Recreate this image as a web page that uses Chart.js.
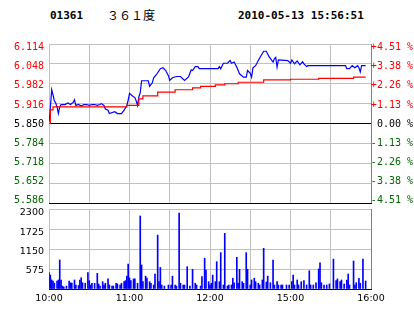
<!DOCTYPE html>
<html><head><meta charset="utf-8">
<script src="https://cdn.jsdelivr.net/npm/chart.js@4"></script>
<style>
html,body{margin:0;padding:0;background:#fff;width:414px;height:314px;overflow:hidden}
#wrap{position:relative;width:414px;height:314px;background:#fff}
canvas{position:absolute;left:0;top:0}
.hd{position:absolute;top:9px;font:bold 11px "DejaVu Sans Mono",monospace;color:#000;line-height:14px;white-space:pre}
.nm{position:absolute;top:7px;left:107px;font:12px "Noto Sans CJK SC",sans-serif;color:#000;line-height:16px;white-space:pre}
</style></head><body>
<div id="wrap">
<div class="hd" style="left:50px">01361</div>
<div class="nm">３６１度</div>
<div class="hd" style="left:238px">2010-05-13 15:56:51</div>
<canvas id="vol" width="414" height="314"></canvas>
<canvas id="price" width="414" height="314"></canvas>
</div>
<script>
// ---- data ----
const priceMin = [0,1,2,3,4,5,6,7,8,9,
  12,14,16,18,19,20,22,24,26,28,
  30,32,34,36,38,39,41,42,44,45,
  49,51,54,56,58,59,60,62,64,65,
  66,67,68,69,74,75,77,78,80,83,
  85,87,89,90,92,95,98,101,104,106,
  107,109,111,112,126,127,128,130,133,135,
  136,138,140,142,145,147,148,150,151,152,
  154,156,158,160,162,164,167,168,169,170,
  171,178,180,181,183,185,187,189,190,192,
  193,221,222,224,226,228,230,231,232,233,
  236];
const priceVal = [5.855,5.900,5.962,5.945,5.925,5.918,5.905,5.883,5.905,5.913,
  5.913,5.918,5.913,5.920,5.929,5.910,5.913,5.908,5.913,5.913,
  5.910,5.913,5.913,5.910,5.913,5.916,5.910,5.898,5.894,5.883,
  5.889,5.883,5.883,5.894,5.910,5.927,5.950,5.942,5.936,5.925,
  5.910,5.939,5.952,5.992,5.992,5.973,5.985,6.002,6.012,6.032,
  6.035,6.026,6.009,5.993,6.002,6.006,6.006,5.993,6.005,6.028,
  6.026,6.039,6.039,6.032,6.032,6.039,6.032,6.050,6.050,6.059,
  6.050,6.054,6.037,6.015,6.004,6.004,6.026,6.017,6.004,6.035,
  6.042,6.059,6.075,6.090,6.090,6.072,6.054,6.065,6.070,6.037,
  6.061,6.059,6.050,6.061,6.048,6.058,6.045,6.055,6.048,6.039,
  6.042,6.042,6.032,6.032,6.042,6.035,6.042,6.035,6.021,6.042,
  6.042];
const avgMin = [0,1,3,58,67,70,81,94,107,113,124,131,141,160,180,201,227,236];
const avgVal = [5.850,5.895,5.905,5.910,5.932,5.942,5.954,5.962,5.968,5.973,5.978,5.982,5.987,5.995,5.997,6.000,6.004,6.004];
const volMin = [0,1,2,3,4,6,7,8,9,10,
  11,13,15,16,17,19,20,22,23,24,
  25,27,29,30,31,32,34,36,37,38,
  40,41,42,44,45,47,48,50,51,53,
  54,56,57,58,59,60,61,63,64,66,
  68,69,70,72,73,75,76,78,79,81,
  82,83,84,86,89,91,92,94,95,97,
  98,100,101,103,105,107,109,110,113,114,
  116,117,119,120,121,122,124,125,127,128,
  130,131,133,134,136,137,138,140,141,142,
  144,145,147,148,150,151,153,154,156,157,
  159,160,162,163,165,167,168,170,171,173,
  174,177,179,181,182,183,185,186,188,190,
  192,194,195,197,199,201,202,203,205,207,
  209,212,214,215,217,218,220,222,223,224,
  227,228,229,231,232,234,236];
const volVal = [470,400,260,230,165,230,260,835,260,85,
  60,85,230,180,170,260,115,100,260,325,
  180,165,470,240,115,165,165,450,145,85,
  210,115,165,290,115,85,85,165,145,115,
  165,210,240,370,720,320,240,290,290,165,
  2100,690,210,370,315,210,165,115,430,1550,
  210,620,115,85,115,115,370,115,85,2180,
  165,115,115,640,85,565,165,115,85,355,
  880,545,210,115,165,400,210,785,210,1045,
  115,1600,85,115,115,310,180,910,165,565,
  210,165,1045,565,115,260,310,210,165,115,
  260,1170,200,370,180,835,115,210,115,115,
  115,115,115,210,400,115,260,115,210,240,
  115,525,115,115,180,575,755,180,115,115,
  145,860,240,290,210,260,145,260,430,115,
  805,115,180,310,165,860,230];
const prevClose = 5.850;
const priceTicks = [5.586,5.652,5.718,5.784,5.850,5.916,5.982,6.048,6.114];
const priceTickLabels = ['5.586','5.652','5.718','5.784','5.850','5.916','5.982','6.048','6.114'];
const pctTickLabels = ['-4.51 %','-3.38 %','-2.26 %','-1.13 %','0.00 %','+1.13 %','+2.26 %','+3.38 %','+4.51 %'];
const volTicks = [0,575,1150,1725,2300];
const volTickLabels = ['575','1150','1725','2300'];
const timeTicks = [0,30,60,90,120,150,180,210,240];
const timeTickLabels = ['10:00','','11:00','','12:00','','15:00','','16:00'];

// ---- styles ----
const RED = '#ff0000', GREEN = '#006600', BLUE = '#0000ff', GRID = '#c0c0c0', EDGE = '#808080';
const midIdx = priceTicks.indexOf(prevClose);
const lblColor = ctx => ctx.index > midIdx ? RED : (ctx.index === midIdx ? '#000' : GREEN);
const monoFont = {family: '"DejaVu Sans Mono", monospace', size: 10};
const sansFont = {family: '"DejaVu Sans", sans-serif', size: 9.5};
const xGrid = ctx => (ctx.tick && ctx.tick.value === 240) ? EDGE : GRID;
const pts = (xs, ys) => xs.map((x, i) => ({x: x, y: ys[i]}));
// label axes: evenly spread labels slightly inside the plot edges, like the reference
const lblMin = -0.1415, lblMax = 8.194;

new Chart(document.getElementById('price'), {
  type: 'line',
  data: {datasets: [
    {data: pts(avgMin, avgVal), borderColor: RED, borderWidth: 1.2, pointRadius: 0, stepped: true, fill: false},
    {data: pts(priceMin, priceVal), borderColor: BLUE, borderWidth: 1.2, pointRadius: 0, tension: 0, fill: false}
  ]},
  options: {
    responsive: false, animation: false, events: [],
    layout: {padding: {top: 44, bottom: 111, left: 0, right: 1}},
    plugins: {legend: {display: false}, tooltip: {enabled: false}},
    scales: {
      x: {type: 'linear', min: 0, max: 240,
        afterBuildTicks: s => { s.ticks = timeTicks.map(v => ({value: v})); },
        ticks: {display: false}, grid: {color: xGrid, drawTicks: false},
        border: {display: true, color: '#000'}, afterFit: s => { s.height = 0; }},
      y: {type: 'linear', position: 'left', weight: 0, min: priceTicks[0], max: priceTicks[priceTicks.length - 1],
        afterBuildTicks: s => { s.ticks = priceTicks.map(v => ({value: v})); },
        ticks: {display: false},
        grid: {drawTicks: false, color: ctx => (ctx.tick && (ctx.tick.value === prevClose || ctx.index === 0)) ? '#000' : GRID},
        border: {display: false}, afterFit: s => { s.width = 0; }},
      yl: {type: 'linear', position: 'left', weight: 1, min: lblMin, max: lblMax,
        afterBuildTicks: s => { s.ticks = priceTicks.map((v, i) => ({value: i})); },
        ticks: {autoSkip: false, padding: 5, font: monoFont, color: lblColor, callback: (v, i) => priceTickLabels[i]},
        grid: {display: false, drawTicks: false}, border: {display: false}, afterFit: s => { s.width = 49; }},
      yr: {type: 'linear', position: 'right', min: lblMin, max: lblMax,
        afterBuildTicks: s => { s.ticks = priceTicks.map((v, i) => ({value: i})); },
        ticks: {autoSkip: false, padding: 0, crossAlign: 'far', font: monoFont, color: lblColor, callback: (v, i) => pctTickLabels[i]},
        grid: {display: false, drawTicks: false}, border: {display: false}, afterFit: s => { s.width = 42; }}
    }
  }
});

new Chart(document.getElementById('vol'), {
  type: 'bar',
  data: {datasets: [
    {data: pts(volMin, volVal), backgroundColor: BLUE, borderWidth: 0, barThickness: 1}
  ]},
  options: {
    responsive: false, animation: false, events: [],
    layout: {padding: {top: 209, bottom: 0, left: 0, right: 43}},
    plugins: {legend: {display: false}, tooltip: {enabled: false}},
    scales: {
      x: {type: 'linear', min: 0, max: 240, offset: false,
        afterBuildTicks: s => { s.ticks = timeTicks.map(v => ({value: v})); },
        ticks: {autoSkip: false, maxRotation: 0, padding: 3.5, font: sansFont, color: '#000', callback: (v, i) => timeTickLabels[i]},
        grid: {color: xGrid, drawTicks: false, offset: false},
        border: {display: true, color: '#000'}, afterFit: s => { s.height = 25; }},
      y: {type: 'linear', position: 'left', weight: 0, min: 0, max: volTicks[volTicks.length - 1],
        afterBuildTicks: s => { s.ticks = volTicks.map(v => ({value: v})); },
        ticks: {display: false},
        grid: {drawTicks: false, color: ctx => (ctx.tick && ctx.tick.value === 0) ? '#000' : GRID},
        border: {display: false}, afterFit: s => { s.width = 0; }},
      yl: {type: 'linear', position: 'left', weight: 1, min: 40, max: 2419,
        afterBuildTicks: s => { s.ticks = volTicks.slice(1).map(v => ({value: v})); },
        ticks: {autoSkip: false, padding: 5, font: sansFont, color: '#000', callback: (v, i) => volTickLabels[i]},
        grid: {display: false, drawTicks: false}, border: {display: false}, afterFit: s => { s.width = 49; }}
    }
  }
});
</script>
</body></html>
